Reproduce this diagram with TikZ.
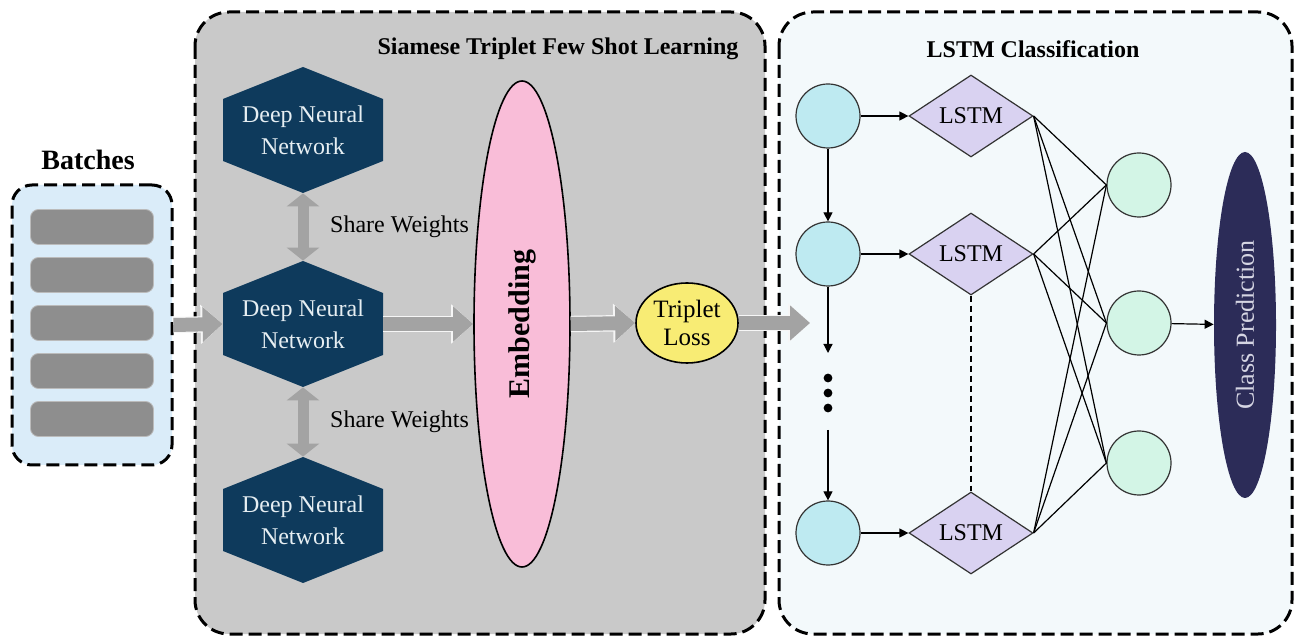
\documentclass[tikz,border=0pt]{standalone}
\usepackage{fontspec}
\setmainfont{Liberation Serif}
\usetikzlibrary{arrows.meta,shapes.geometric}
\definecolor{boxgray}{HTML}{C9C9C9}
\definecolor{batchblue}{HTML}{DAECF9}
\definecolor{boxblue}{HTML}{F3F9FB}
\definecolor{bargray}{HTML}{8E8E8E}
\definecolor{arrowgray}{HTML}{A3A3A3}
\definecolor{dnnblue}{HTML}{0E3A5C}
\definecolor{dnntext}{HTML}{E6EEF2}
\definecolor{embpink}{HTML}{F9BDD8}
\definecolor{lossyellow}{HTML}{F8EC74}
\definecolor{incyan}{HTML}{BEEAF1}
\definecolor{outgreen}{HTML}{D3F5E6}
\definecolor{lstmviolet}{HTML}{D9D2F1}
\definecolor{clsnavy}{HTML}{2C2C58}
\definecolor{clstext}{HTML}{D5D5E3}

\begin{document}
\begin{tikzpicture}[x=0.5pt,y=-0.5pt,>={Triangle[length=4.5pt,width=4.5pt]},
    every node/.style={font=\fontsize{12}{16}\selectfont},
    frame/.style={draw=black,line width=1.5pt,dash pattern=on 6.5pt off 3pt,rounded corners=17pt},
    title/.style={font=\fontsize{12}{14}\selectfont\bfseries,anchor=base},
    bar/.style={rectangle,rounded corners=4pt,fill=bargray,draw=bargray!60!white,
        minimum width=61.5pt,minimum height=17.5pt},
    bigarrow/.style={draw=arrowgray,line width=7pt,-{Triangle[length=10pt,width=17pt]},
        preaction={draw=white!90!arrowgray,line width=8.2pt,-{Triangle[length=11pt,width=19pt]}}},
    share/.style={draw=arrowgray,line width=5.5pt,
        {Triangle[length=6.5pt,width=16pt]}-{Triangle[length=6.5pt,width=16pt]}},
    wire/.style={line width=0.6pt},
    dnn/.style={text=dnntext,align=center,minimum width=80pt,minimum height=63pt,inner sep=0pt},
    incell/.style={circle,draw=black!80,wire,fill=incyan,minimum size=32pt,inner sep=0pt},
    outcell/.style={incell,fill=outgreen},
    lstm/.style={diamond,draw=black!80,wire,fill=lstmviolet,minimum width=62pt,minimum height=41pt,inner sep=0pt}]
    \useasboundingbox (0,0) rectangle (1300,640);

    % batches
    \node[title,font=\fontsize{14}{16}\selectfont\bfseries] (batchtitle) at (88,170) {Batches};
    \node[frame,rounded corners=10pt,fill=batchblue,minimum width=80pt,minimum height=140pt]
        (batches) at (92,325) {};
    \foreach \i in {0,...,4}
        \node[bar] (bar\i) at (92,{227+48*\i}) {};

    % siamese part
    \draw[frame,fill=boxgray] (195,12) rectangle (765,634);
    \node[title] (siamtitle) at (558,55) {Siamese Triplet Few Shot Learning};
    \foreach \n/\y in {1/130,2/324,3/520}{
        \fill[dnnblue] (303,\y-63) -- (383,\y-31) -- (383,\y+31) -- (303,\y+63)
            -- (223,\y+31) -- (223,\y-31) -- cycle;
        \node[dnn] (dnn\n) at (303,\y) {Deep Neural\\Network};
    }
    \draw[share] (dnn1.south) -- node[right=7.5pt] (share1) {Share Weights} (dnn2.north);
    \draw[share] (dnn2.south) -- node[right=7.5pt] (share2) {Share Weights} (dnn3.north);

    \node[ellipse,draw,line width=0.8pt,fill=embpink,minimum width=48pt,minimum height=243pt,
        inner sep=0pt] (emb) at (522,324)
        {\rotatebox{90}{\fontsize{15}{16}\selectfont\bfseries Embedding}};
    \node[ellipse,draw,line width=0.8pt,fill=lossyellow,minimum width=51pt,minimum height=40pt,
        inner sep=0pt,align=center,font=\fontsize{12.5}{14}\selectfont] (loss) at (687,323) {Triplet\\Loss};

    % lstm part
    \draw[frame,fill=boxblue] (779,12) rectangle (1292,634);
    \node[title] (lstmtitle) at (1033,58) {LSTM Classification};
    \foreach \n/\y in {1/116,2/254,3/533}{
        \node[incell] (in\n) at (828,\y) {};
        \node[lstm] (lstm\n) at (971,\y) {LSTM};
        \draw[wire,->] (in\n) -- (lstm\n);
    }
    \foreach \n/\y in {1/185,2/323,3/463}
        \node[outcell] (out\n) at (1139,\y) {};
    \foreach \i in {1,2,3}
        \foreach \j in {1,2,3}
            \draw[wire] (lstm\i.east) -- (out\j.west);

    \coordinate (gapa) at (828,353);
    \coordinate (gapb) at (828,430);
    \draw[wire,->] (in1) -- (in2);
    \draw[wire,->] (in2) -- (gapa);
    \draw[wire,->] (gapb) -- (in3);
    \foreach \y in {378,393,408}
        \fill (828,\y) circle (2.2pt);
    \draw[wire,dash pattern=on 3pt off 2pt] (lstm2.south) -- (lstm3.north);

    \node[ellipse,fill=clsnavy,minimum width=31pt,minimum height=173pt,inner sep=0pt,
        text=clstext] (cls) at (1245,325)
        {\rotatebox{90}{\fontsize{13}{14}\selectfont Class Prediction}};
    \draw[wire,->] (out2) -- (cls);

    % big arrows
    \coordinate (lstmin) at (810,323);
    \draw[bigarrow] (batches.east) -- (dnn2.west);
    \draw[bigarrow] (dnn2.east) -- (emb.west);
    \draw[bigarrow] (emb.east) -- (loss.west);
    \draw[bigarrow] (loss.east) -- (lstmin);
\end{tikzpicture}
\end{document}
